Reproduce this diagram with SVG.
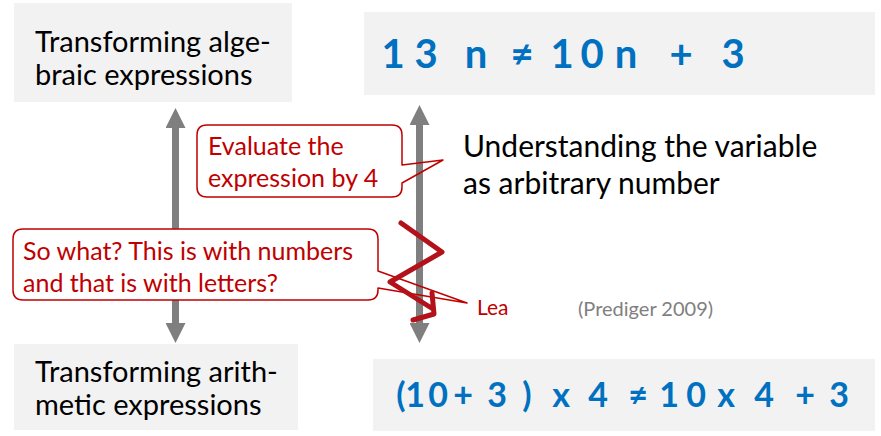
<svg xmlns="http://www.w3.org/2000/svg" width="881" height="436" viewBox="0 0 881 436">
<style>
  .box { fill: #f2f2f2; }
  .lbl { font-family: Lato, "Liberation Sans", sans-serif; fill: #000; }
  .big { font-size: 29px; }
  .mid { font-size: 30px; }
  .math { font-family: Lato, "Liberation Sans", sans-serif; fill: #0070c0; font-weight: bold; text-anchor: middle; }
  .red { font-family: Lato, "Liberation Sans", sans-serif; fill: #c00000; }
  .src { font-family: Lato, "Liberation Sans", sans-serif; fill: #808080; }
  .conn { stroke: #7f7f7f; stroke-width: 7; fill: none; }
  .cbody { fill: #fff; }
  .cline { fill: none; stroke: #c00000; stroke-width: 1.5; stroke-linejoin: round; }
  .squig { fill: none; stroke: #b3121b; stroke-width: 5; stroke-linecap: round; stroke-linejoin: round; }
</style>
<defs>
  <marker id="ah" viewBox="0 0 20 20" refX="0" refY="10" markerWidth="20" markerHeight="20" markerUnits="userSpaceOnUse" orient="auto-start-reverse">
    <path d="M0,0 L20,10 L0,20 Z" fill="#7f7f7f"/>
  </marker>
</defs>
<rect width="881" height="436" fill="#fff"/>

<g id="connectors">
  <line class="conn" x1="175.5" y1="128" x2="175.5" y2="323" marker-start="url(#ah)" marker-end="url(#ah)"/>
  <line class="conn" x1="419.5" y1="125" x2="419.5" y2="323" marker-start="url(#ah)" marker-end="url(#ah)"/>
</g>

<g id="node-algebraic">
  <rect class="box" x="14" y="3" width="278" height="99"/>
  <text class="lbl big" x="35" y="52">Transforming alge-</text>
  <text class="lbl big" x="35" y="85">braic expressions</text>
</g>

<g id="node-arithmetic">
  <rect class="box" x="14" y="344" width="284" height="86"/>
  <text class="lbl big" x="35" y="382">Transforming arith-</text>
  <text class="lbl big" x="35" y="415">metic expressions</text>
</g>

<g id="node-algebra-example">
  <rect class="box" x="364" y="12" width="511" height="83"/>
  <text class="math" font-size="40" y="68"><tspan x="393">1</tspan><tspan x="426">3</tspan><tspan x="476">n</tspan><tspan x="522">≠</tspan><tspan x="562">1</tspan><tspan x="592">0</tspan><tspan x="626">n</tspan><tspan x="681">+</tspan><tspan x="733">3</tspan></text>
</g>

<g id="node-arithmetic-example">
  <rect class="box" x="373" y="359" width="502" height="72"/>
  <text class="math" font-size="34" y="407"><tspan x="401">(</tspan><tspan x="415">1</tspan><tspan x="438">0</tspan><tspan x="463">+</tspan><tspan x="497">3</tspan><tspan x="527">)</tspan><tspan x="561">x</tspan><tspan x="598">4</tspan><tspan x="638">≠</tspan><tspan x="669">1</tspan><tspan x="696">0</tspan><tspan x="726">x</tspan><tspan x="764">4</tspan><tspan x="805">+</tspan><tspan x="839">3</tspan></text>
</g>

<g id="node-understanding">
  <text class="lbl mid" x="463" y="157">Understanding the variable</text>
  <text class="lbl mid" x="463" y="194">as arbitrary number</text>
</g>

<g id="callout-evaluate">
  <rect class="cbody" x="197" y="125" width="205" height="72" rx="10"/>
  <path class="cline" d="M207,125 H392 Q402,125 402,135 V165 L443,160 L402,183 V187 Q402,197 392,197 H207 Q197,197 197,187 V135 Q197,125 207,125 Z"/>
  <text class="red" font-size="25" x="208" y="155">Evaluate the</text>
  <text class="red" font-size="25" x="208" y="187">expression by 4</text>
</g>

<g id="callout-sowhat">
  <rect class="cbody" x="13" y="229" width="365" height="71" rx="10"/>
  <path class="cline" d="M23,229 H368 Q378,229 378,239 V271 L467,303 L378,288 V290 Q378,300 368,300 H23 Q13,300 13,290 V239 Q13,229 23,229 Z"/>
  <text class="red" font-size="25" x="23" y="260">So what? This is with numbers</text>
  <text class="red" font-size="25" x="23" y="292">and that is with letters?</text>
</g>

<g id="squiggle">
  <path class="squig" d="M401,223 L442,252 L390,282 L433,309 M432,293 L434,314 L413,320"/>
</g>

<g id="label-lea">
  <text class="red" font-size="21" x="477" y="315">Lea</text>
</g>

<g id="label-source">
  <text class="src" font-size="20" x="578" y="316">(Prediger 2009)</text>
</g>
</svg>
